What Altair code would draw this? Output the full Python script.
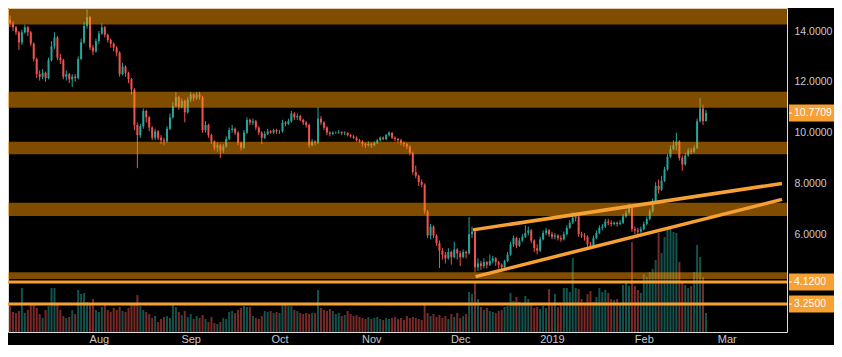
import altair as alt
import pandas as pd

# ---------------- data ----------------
START_DATE = "2018-07-01"
FIRST_OPEN = 14.3

closes = [
    14.45, 14.3, 14.15, 13.95, 13.55, 13.95, 14.15, 13.95, 13.5, 12.9,
    12.3, 12.2, 12.35, 12.15, 12.85, 13.4, 13.75, 12.95, 12.85, 12.2,
    12.3, 12.1, 12.2, 12.15, 12.9, 13.55, 14.2, 14.55, 13.35, 13.2,
    13.6, 13.9, 14.15, 13.85, 13.65, 13.5, 13.35, 13.15, 12.3, 12.6,
    12.35, 12.1, 11.7, 10.3, 9.9, 10.25, 10.85, 10.6, 10.2, 9.8,
    10.05, 9.8, 9.7, 9.65, 10.15, 10.6, 11.05, 11.4, 11.0, 11.25,
    10.8, 11.3, 11.5, 11.35, 11.5, 11.4, 10.1, 10.3, 9.9, 9.65,
    9.4, 9.5, 9.3, 9.45, 9.75, 10.1, 10.15, 10.0, 9.6, 9.4,
    10.0, 10.5, 10.4, 10.45, 10.2, 10.0, 9.8, 9.95, 10.05, 10.0,
    10.1, 10.05, 10.05, 10.4, 10.35, 10.45, 10.75, 10.6, 10.65, 10.5,
    10.4, 10.3, 9.5, 9.65, 9.6, 10.55, 10.4, 10.2, 10.0, 9.95,
    10.0, 10.0, 10.02, 9.98, 10.0, 9.9, 9.85, 9.8, 9.7, 9.65,
    9.55, 9.5, 9.55, 9.5, 9.6, 9.7, 9.8, 9.75, 9.9, 10.0,
    9.8, 9.75, 9.7, 9.6, 9.55, 9.45, 9.2, 8.45, 8.3, 8.05,
    7.95, 6.9, 5.95, 6.3, 5.95, 5.65, 5.35, 5.2, 5.05, 5.3,
    5.1, 5.4, 5.25, 5.1, 5.3, 5.25, 6.0, 6.1, 4.7, 4.85,
    4.75, 4.9, 4.8, 4.95, 5.05, 4.9, 4.8, 4.7, 4.95, 5.2,
    5.6, 5.85, 5.55, 5.75, 5.9, 6.05, 6.15, 5.75, 5.45, 5.35,
    5.8, 6.05, 6.15, 6.0, 5.9, 5.95, 5.85, 5.8, 6.0, 6.25,
    6.45, 6.65, 6.7, 6.0, 5.95, 5.9, 5.6, 5.55, 5.85, 6.05,
    6.25, 6.3, 6.5, 6.45, 6.4, 6.45, 6.4, 6.45, 6.7, 6.85,
    7.05, 6.2, 6.15, 6.1, 6.2, 6.4, 6.6, 6.9, 7.3, 7.9,
    7.75, 8.1, 8.55, 9.05, 9.35, 9.5, 9.65, 9.0, 8.75, 9.1,
    9.3, 9.25, 9.4, 10.45, 10.95, 10.45, 10.7709,
]

highs = [
    14.75, 14.6, 14.4, 14.2, 14.0, 14.05, 14.25, 14.2, 14.0, 13.55,
    12.95, 12.45, 12.5, 12.4, 12.95, 13.6, 13.95, 13.8, 13.1, 12.9,
    12.45, 12.35, 12.3, 12.3, 13.0, 13.7, 14.35, 14.85, 14.6, 13.45,
    13.7, 14.0, 14.3, 14.2, 13.9, 13.7, 13.55, 13.4, 13.2, 12.75,
    12.65, 12.4, 12.15, 11.75, 10.4, 10.35, 10.95, 10.9, 10.65, 10.25,
    10.15, 10.1, 9.9, 9.8, 10.25, 10.75, 11.2, 11.6, 11.45, 11.35,
    11.3, 11.4, 11.6, 11.55, 11.6, 11.6, 11.45, 10.45, 10.35, 9.95,
    9.7, 9.6, 9.55, 9.55, 9.85, 10.2, 10.3, 10.2, 10.05, 9.65,
    10.1, 10.6, 10.55, 10.55, 10.5, 10.25, 10.05, 10.05, 10.15, 10.1,
    10.15, 10.15, 10.1, 10.5, 10.45, 10.55, 10.85, 10.8, 10.75, 10.7,
    10.55, 10.45, 10.35, 9.75, 9.7, 11.0, 10.65, 10.45, 10.25, 10.05,
    10.05, 10.05, 10.1, 10.05, 10.05, 10.0, 9.95, 9.9, 9.85, 9.75,
    9.7, 9.6, 9.65, 9.6, 9.65, 9.75, 9.85, 9.85, 9.95, 10.05,
    10.0, 9.85, 9.8, 9.75, 9.65, 9.6, 9.5, 9.25, 8.7, 8.35,
    8.15, 8.0, 6.95, 6.4, 6.35, 6.0, 5.75, 5.45, 5.3, 5.45,
    5.35, 5.7, 5.45, 5.35, 5.4, 5.35, 6.68, 6.3, 6.15, 5.05,
    4.95, 5.05, 4.95, 5.2, 5.15, 5.1, 4.95, 4.85, 5.0, 5.3,
    5.7, 5.95, 5.9, 5.85, 6.0, 6.35, 6.3, 6.2, 5.8, 5.6,
    5.9, 6.15, 6.25, 6.2, 6.1, 6.05, 6.0, 5.95, 6.1, 6.35,
    6.55, 6.87, 6.8, 6.75, 6.1, 6.05, 5.95, 5.7, 5.95, 6.15,
    6.35, 6.4, 6.6, 6.6, 6.55, 6.5, 6.5, 6.55, 6.8, 6.95,
    7.2, 7.1, 6.3, 6.25, 6.3, 6.5, 6.7, 7.0, 7.4, 8.05,
    8.15, 8.3, 8.65, 9.15, 9.5, 9.7, 10.0, 9.7, 9.1, 9.2,
    9.4, 9.4, 9.5, 10.55, 11.36, 11.1, 10.9,
]

lows = [
    14.2, 14.15, 14.0, 13.85, 13.25, 13.45, 13.9, 13.8, 13.4, 12.8,
    12.15, 12.05, 12.1, 12.0, 12.1, 12.8, 13.3, 12.85, 12.7, 12.1,
    12.05, 11.95, 11.8, 12.0, 12.1, 12.85, 13.5, 14.1, 13.25, 13.05,
    13.15, 13.5, 13.85, 13.75, 13.55, 13.35, 13.2, 13.0, 12.2, 12.25,
    12.2, 11.95, 11.5, 10.1, 8.6, 9.8, 10.15, 10.4, 10.05, 9.7,
    9.7, 9.7, 9.55, 9.5, 9.6, 10.1, 10.55, 11.0, 10.9, 10.95,
    10.4, 10.75, 11.2, 11.25, 11.3, 11.3, 10.0, 10.0, 9.8, 9.55,
    9.3, 9.25, 9.0, 9.2, 9.4, 9.7, 10.0, 9.9, 9.5, 9.3,
    9.35, 9.95, 10.3, 10.3, 10.1, 9.9, 9.55, 9.75, 9.9, 9.95,
    9.95, 9.95, 9.95, 10.0, 10.25, 10.3, 10.4, 10.5, 10.5, 10.45,
    10.3, 10.2, 9.4, 9.45, 9.5, 9.55, 10.3, 10.1, 9.9, 9.85,
    9.9, 9.95, 9.95, 9.9, 9.9, 9.85, 9.8, 9.75, 9.65, 9.6,
    9.45, 9.4, 9.45, 9.4, 9.45, 9.55, 9.65, 9.7, 9.7, 9.85,
    9.75, 9.65, 9.6, 9.5, 9.45, 9.35, 9.1, 8.35, 8.2, 7.9,
    7.85, 6.8, 5.85, 5.8, 5.85, 5.55, 4.67, 5.0, 4.85, 5.0,
    4.8, 5.05, 5.0, 4.75, 5.05, 5.05, 5.2, 5.85, 4.5, 4.55,
    4.6, 4.65, 4.65, 4.75, 4.85, 4.75, 4.65, 4.6, 4.65, 4.9,
    5.15, 5.5, 5.45, 5.5, 5.7, 5.85, 5.95, 5.65, 5.3, 5.2,
    5.3, 5.75, 5.95, 5.9, 5.8, 5.8, 5.75, 5.7, 5.75, 5.95,
    6.2, 6.4, 6.5, 5.9, 5.85, 5.75, 5.5, 5.45, 5.5, 5.8,
    6.0, 6.15, 6.25, 6.35, 6.3, 6.35, 6.3, 6.35, 6.4, 6.65,
    6.8, 6.1, 6.0, 6.0, 6.05, 6.15, 6.35, 6.55, 6.85, 7.25,
    7.6, 7.7, 8.05, 8.5, 9.0, 9.3, 9.3, 8.9, 8.5, 8.7,
    9.05, 9.15, 9.2, 9.35, 10.4, 10.3, 10.45,
]

volumes = [
    30, 26, 20, 19, 21, 44, 19, 22, 27, 28,
    24, 18, 14, 22, 26, 44, 44, 28, 22, 16,
    14, 15, 22, 18, 42, 38, 39, 30, 27, 33,
    22, 20, 25, 27, 22, 20, 24, 22, 25, 21,
    20, 24, 27, 29, 37, 26, 22, 20, 18, 14,
    16, 10, 13, 15, 16, 14, 28, 25, 20, 17,
    21, 15, 18, 13, 16, 14, 17, 13, 10, 15,
    9, 8, 10, 14, 13, 20, 21, 19, 22, 24,
    26, 25, 25, 16, 14, 13, 16, 21, 20, 21,
    19, 20, 19, 27, 28, 26, 26, 22, 21, 19,
    18, 19, 18, 19, 19, 42, 24, 22, 21, 23,
    21, 18, 19, 16, 17, 21, 18, 16, 17, 15,
    14, 13, 15, 13, 14, 15, 13, 12, 14, 13,
    14, 15, 13, 14, 12, 16, 14, 15, 14, 13,
    12, 28, 19, 16, 18, 15, 17, 14, 16, 13,
    18, 15, 19, 14, 16, 18, 40, 38, 49, 33,
    25, 22, 24, 21, 20, 19, 21, 22, 25, 26,
    39, 31, 35, 30, 28, 36, 33, 27, 24, 25,
    23, 26, 24, 43, 28, 38, 25, 29, 44, 44,
    40, 74, 44, 43, 33, 29, 38, 41, 30, 35,
    44, 40, 42, 39, 33, 32, 33, 29, 47, 49,
    46, 90, 46, 42, 39, 58, 55, 60, 63, 72,
    99, 79, 95, 102, 104, 100, 99, 70, 49, 47,
    44, 46, 60, 87, 75, 55, 19,
]

band_lo = [14.26, 10.98, 9.15, 6.72, 4.24]
band_hi = [14.89, 11.61, 9.64, 7.24, 4.50]

level_prices = [4.12, 3.25]

tag_prices = [10.7709, 4.12, 3.25]
tag_labels = ["10.7709", "4.1200", "3.2500"]

trend_names = ["upper", "upper", "lower", "lower"]
trend_dates = ["2018-12-05T07:00:00Z", "2019-03-19T16:00:00Z",
               "2018-12-06T05:00:00Z", "2019-03-19T16:00:00Z"]
trend_prices = [6.17, 8.0, 4.33, 7.37]

y_ticks = [6, 8, 10, 12, 14]

# ---------------- tables ----------------
dates = pd.date_range(START_DATE, periods=len(closes), freq="D").strftime("%Y-%m-%d")
opens = [FIRST_OPEN] + closes[:-1]
candles = pd.DataFrame({
    "date": dates, "open": opens, "high": highs, "low": lows,
    "close": closes, "volume": volumes,
})
candles["dir"] = ["up" if c >= o else "down" for o, c in zip(opens, closes)]

bands = pd.DataFrame({"lo": band_lo, "hi": band_hi})
levels = pd.DataFrame({"price": level_prices})
tags = pd.DataFrame({"price": tag_prices, "label": tag_labels})
trends = pd.DataFrame({"name": trend_names, "date": trend_dates, "price": trend_prices})

# ---------------- styling ----------------
W, H = 779, 324
FONT = "Liberation Sans"
FS = 10.5
UP, DOWN = "#26A69A", "#EF5350"
ORANGE = "#F7A033"
LABEL = "#C8CAD0"

x_scale = alt.Scale(
    type="utc",
    domain=[alt.DateTime(year=2018, month=7, date=3, utc=True),
            alt.DateTime(year=2019, month=3, date=19, hours=16, utc=True)],
)
y_scale = alt.Scale(domain=[2.15, 14.906], nice=False, zero=False)

x_enc = alt.X(
    "date:T", scale=x_scale, title=None,
    axis=alt.Axis(
        tickCount="month", grid=False, domain=False, ticks=False,
        labelExpr="utcFormat(datum.value, '%m') == '01' ? utcFormat(datum.value, '%Y') : utcFormat(datum.value, '%b')",
        labelColor=LABEL, labelFontSize=11, labelFont=FONT, labelPadding=1,
        labelFlush=False, labelOverlap=False,
    ),
)
color_enc = alt.Color("dir:N", scale=alt.Scale(domain=["up", "down"], range=[UP, DOWN]), legend=None)

y_axis = alt.Axis(
    orient="right", values=y_ticks, format=".4f", grid=False, domain=False, ticks=False,
    labelColor=LABEL, labelFontSize=FS, labelFont=FONT, labelPadding=7, title=None,
)

volume = alt.Chart(candles).mark_bar(size=2, opacity=0.5).encode(
    x=x_enc,
    y=alt.Y("volume:Q", scale=alt.Scale(domain=[0, 324], nice=False), axis=None),
    color=color_enc,
)

wick = alt.Chart(candles).mark_rule(strokeWidth=1).encode(
    x=x_enc,
    y=alt.Y("low:Q", scale=y_scale, axis=y_axis),
    y2="high:Q",
    color=color_enc,
)

body = alt.Chart(candles).mark_bar(size=2).encode(
    x=x_enc,
    y=alt.Y("open:Q", scale=y_scale),
    y2="close:Q",
    color=color_enc,
)

band_layer = alt.Chart(bands).mark_rect(color="#FF9800", opacity=0.5).encode(
    x=alt.value(0), x2=alt.value(W),
    y=alt.Y("lo:Q", scale=y_scale), y2="hi:Q",
)

level_layer = alt.Chart(levels).mark_rule(color=ORANGE, strokeWidth=3).encode(
    y=alt.Y("price:Q", scale=y_scale),
)

trend_layer = alt.Chart(trends).mark_line(color=ORANGE, strokeWidth=3.5, clip=True).encode(
    x=x_enc,
    y=alt.Y("price:Q", scale=y_scale),
    detail="name:N",
)

tag_box = alt.Chart(tags).transform_calculate(
    lo="datum.price - 0.335", hi="datum.price + 0.335"
).mark_rect(color=ORANGE).encode(
    x=alt.value(W + 2), x2=alt.value(W + 60),
    y=alt.Y("lo:Q", scale=y_scale), y2="hi:Q",
)

tag_tick = alt.Chart(tags).mark_rule(color="#FFFFFF", strokeWidth=1).encode(
    x=alt.value(W + 2), x2=alt.value(W + 5),
    y=alt.Y("price:Q", scale=y_scale),
)

tag_text = alt.Chart(tags).mark_text(
    align="left", baseline="middle", color="#FFFFFF", fontSize=FS, font=FONT
).encode(
    x=alt.value(W + 7),
    y=alt.Y("price:Q", scale=y_scale),
    text="label:N",
)

price = alt.layer(wick, body, band_layer, level_layer, trend_layer, tag_box, tag_tick, tag_text)

chart = alt.layer(volume, price).resolve_scale(y="independent").properties(
    width=W, height=H,
    padding={"left": 0, "top": 0, "right": 47, "bottom": 13},
    autosize=alt.AutoSizeParams(type="none"),
    background="#000000",
).configure_view(stroke=None).configure(font=FONT)

chart.save("out.html", embed_options={"renderer": "svg", "actions": False})
